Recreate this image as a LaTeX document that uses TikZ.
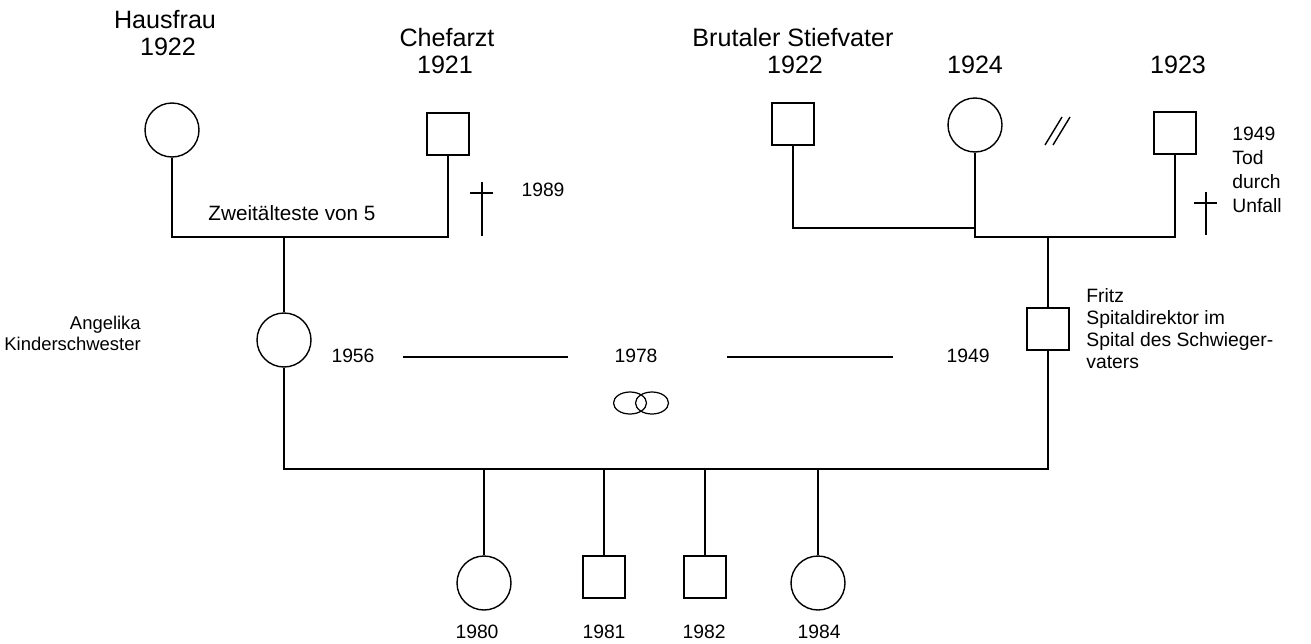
\documentclass[tikz,border=0pt]{standalone}
\usepackage{fontspec}
\setmainfont{Liberation Sans}
\usetikzlibrary{positioning,shapes.geometric}
\tikzset{
  frau/.style={draw, circle, minimum size=1.08cm, inner sep=0pt, line width=0.8pt},
  mann/.style={draw, rectangle, minimum size=0.84cm, inner sep=0pt, line width=0.8pt},
  ring/.style={draw, ellipse, minimum width=0.66cm, minimum height=0.44cm, inner sep=0pt, line width=0.7pt},
  txt/.style={font=\fontsize{11}{12.5}\selectfont, inner sep=0pt},
  head/.style={font=\fontsize{14.3}{15}\selectfont, inner sep=0pt},
  line/.style={line width=0.8pt},
}
\begin{document}
\begin{tikzpicture}[x=0.02cm, y=-0.02cm]
  \useasboundingbox (0,0) rectangle (1311,643);

  % Eltern der Mutter
  \node[frau] (hf) at (172,130) {};
  \node[mann] (cf) at (448,134) {};
  \node[head] (hfname) at (165,20) {Hausfrau};
  \node[head] (hfyear) at (168,47) {1922};
  \node[head] (cfname) at (447,38) {Chefarzt};
  \node[head] (cfyear) at (445,65) {1921};
  \node[txt] (cftod) at (543,190) {1989};
  \node[txt, font=\fontsize{11.8}{13}\selectfont] (rang) at (292,213) {Zweitälteste von 5};
  \draw[line] (482,182) -- (482,236);
  \draw[line] (470,193) -- (493,193);

  % Eltern des Vaters
  \node[mann] (sv) at (793,124) {};
  \node[frau] (mu) at (975,125) {};
  \node[mann] (va) at (1175,133) {};
  \node[head] (svname) at (793,38) {Brutaler Stiefvater};
  \node[head] (svyear) at (795,65) {1922};
  \node[head] (muyear) at (975,65) {1924};
  \node[head] (vayear) at (1178,65) {1923};
  \node[txt, anchor=north west, align=left, font=\fontsize{11}{13.6}\selectfont] (vainfo) at (1232,127) {1949\\Tod\\durch\\Unfall};
  \draw[line] (1045,145) -- (1062,117);
  \draw[line] (1053,145) -- (1070,117);
  \draw[line] (1206,192) -- (1206,235);
  \draw[line] (1194,203) -- (1217,203);

  % Paar
  \node[frau] (ang) at (284,340) {};
  \node[mann] (fr) at (1048,329) {};
  \node[txt, anchor=west, align=right, font=\fontsize{10.5}{12}\selectfont] (anginfo) at (4,333) {Angelika\\Kinderschwester};
  \node[txt, anchor=north west, align=left] (frinfo) at (1086,288) {Fritz\\Spitaldirektor im\\Spital des Schwieger-\\vaters};
  \node[txt] (angyear) at (353,356) {1956};
  \node[txt] (heirat) at (636,356) {1978};
  \node[txt] (fryear) at (968,356) {1949};
  \node[ring] (r1) at (630,403) {};
  \node[ring] (r2) at (652,403) {};

  % Kinder
  \node[frau] (k1) at (484,583) {};
  \node[mann] (k2) at (604,577) {};
  \node[mann] (k3) at (705,577) {};
  \node[frau] (k4) at (818,583) {};
  \node[txt] (k1year) at (477,632) {1980};
  \node[txt] (k2year) at (604,632) {1981};
  \node[txt] (k3year) at (704,632) {1982};
  \node[txt] (k4year) at (819,632) {1984};

  \coordinate (lm) at (284,237);
  \coordinate (rs) at (975,228);
  \coordinate (rm) at (1048,237);
  \coordinate (km) at (660,469);
  \coordinate (m1a) at (403,357);
  \coordinate (m1b) at (568,357);
  \coordinate (m2a) at (727,357);
  \coordinate (m2b) at (893,357);

  \draw[line] (hf.south) |- (lm) -| (cf.south);
  \draw[line] (lm) -- (ang.north);
  \draw[line] (sv.south) |- (rs);
  \draw[line] (mu.south) |- (rm) -| (va.south);
  \draw[line] (rm) -- (fr.north);
  \draw[line] (m1a) -- (m1b);
  \draw[line] (m2a) -- (m2b);
  \draw[line] (ang.south) |- (km) -| (fr.south);
  \draw[line] (k1.north) -- (k1.north |- km);
  \draw[line] (k2.north) -- (k2.north |- km);
  \draw[line] (k3.north) -- (k3.north |- km);
  \draw[line] (k4.north) -- (k4.north |- km);
\end{tikzpicture}
\end{document}
